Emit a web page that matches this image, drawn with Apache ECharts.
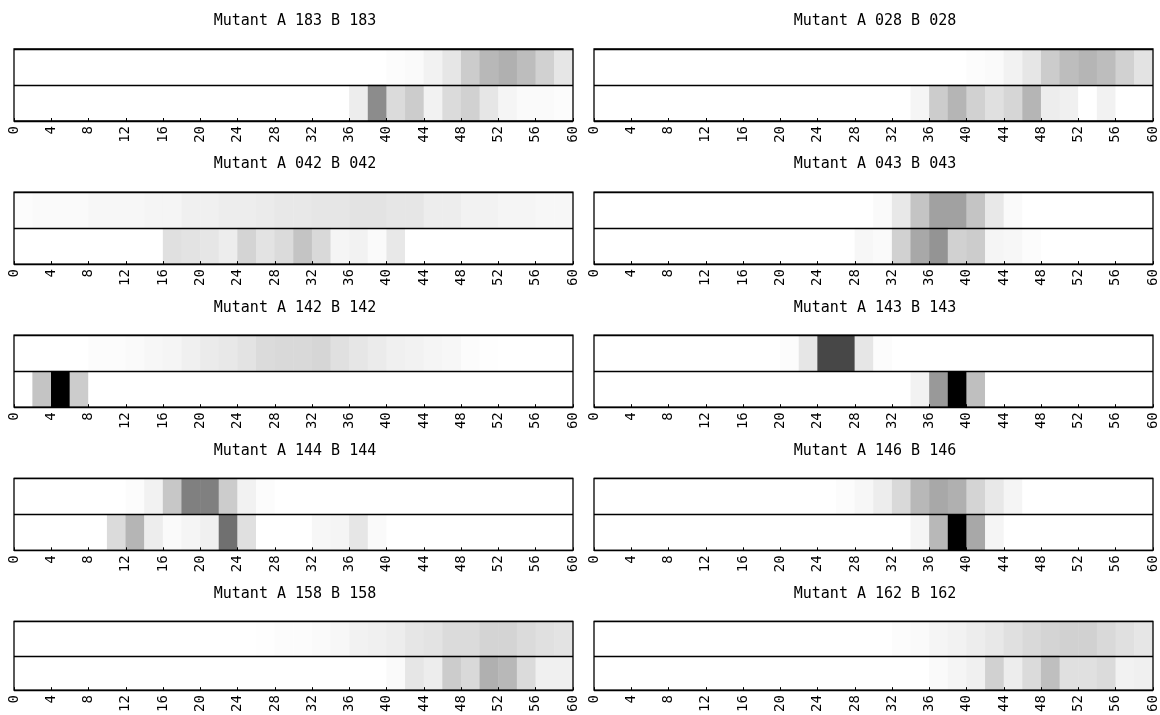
<!DOCTYPE html>
<html>
<head>
<meta charset="utf-8">
<script src="https://cdn.jsdelivr.net/npm/echarts@6/dist/echarts.min.js"></script>
<style>
html,body{margin:0;padding:0;background:#fff;}
#chart{width:1160px;height:715px;}
</style>
</head>
<body>
<div id="chart"></div>
<script>
// bin starts (each bin is 2 wide, 0..60)
const binStarts = [0,2,4,6,8,10,12,14,16,18,20,22,24,26,28,30,32,34,36,38,40,42,44,46,48,50,52,54,56,58];
const rowNames = ['B','A'];
const panelTitles = ['Mutant A 183 B 183','Mutant A 028 B 028','Mutant A 042 B 042','Mutant A 043 B 043',
  'Mutant A 142 B 142','Mutant A 143 B 143','Mutant A 144 B 144','Mutant A 146 B 146',
  'Mutant A 158 B 158','Mutant A 162 B 162'];

// darkness per bin (0 = white, 100 = black)
const a183 = [0,0,0,0,0,0,0,0,0,0, 0,0,0,0,0,0,0,0,0,0, 1,2,5,10,20,28,31,26,18,10];
const b183 = [0,0,0,0,0,0,0,0,0,0, 0,0,0,0,0,0,0,0,7,45, 14,20,5,14,18,10,4,2,2,1];
const a028 = [0,0,0,0,0,0,0,0,0,0, 0,0,0,0,0,0,0,0,0,0, 1,2,5,10,20,26,29,26,18,11];
const b028 = [0,0,0,0,0,0,0,0,0,0, 0,0,0,0,0,0,0,4,20,29, 18,12,16,29,7,6,0,5,0,0];
const a042 = [1,2,2,2,3,3,3,4,4,6, 6,7,7,8,9,9,10,10,11,11, 10,10,7,7,5,5,4,4,3,3];
const b042 = [0,0,0,0,0,0,0,0,12,11, 10,7,17,11,14,23,15,4,5,2, 9,0,0,0,0,0,0,0,0,0];
const a043 = [0,0,0,0,0,0,0,0,0,0, 0,0,0,0,0,2,9,23,37,37, 23,9,2,0,0,0,0,0,0,0];
const b043 = [0,0,0,0,0,0,0,0,0,0, 0,0,0,0,3,2,18,34,42,18, 20,4,3,1,0,0,0,0,0,0];
const a142 = [0,0,0,0,1,1,2,3,4,6, 8,9,11,14,15,15,16,12,10,8, 6,5,4,3,1,0.5,0,0,0,0];
const b142 = [0,23,100,20,0,0,0,0,0,0, 0,0,0,0,0,0,0,0,0,0, 0,0,0,0,0,0,0,0,0,0];
const a143 = [0,0,0,0,0,0,0,0,0,0, 1,10,72,72,10,1,0,0,0,0, 0,0,0,0,0,0,0,0,0,0];
const b143 = [0,0,0,0,0,0,0,0,0,0, 0,0,0,0,0,0,0,5,40,100, 25,0,0,0,0,0,0,0,0,0];
const a144 = [0,0,0,0,0,0,1,5,22,50, 50,20,5,1,0,0,0,0,0,0, 0,0,0,0,0,0,0,0,0,0];
const b144 = [0,0,0,0,0,14,29,7,2,4, 6,56,12,0,0,0,3,4,10,2, 0,0,0,0,0,0,0,0,0,0];
const a146 = [0,0,0,0,0,0,0,0,0,0, 0,0,0,1,3,7,15,28,34,31, 17,9,4,0,0,0,0,0,0,0];
const b146 = [0,0,0,0,0,0,0,0,0,0, 0,0,0,0,0,0,0,4,28,100, 34,4,0,0,0,0,0,0,0,0];
const a158 = [0,0,0,0,0,0,0,0,0,0, 0,0,0,0.5,1,1,2,3,5,6, 7,10,11,14,14,17,17,14,12,11];
const b158 = [0,0,0,0,0,0,0,0,0,0, 0,0,0,0,0,0,0,0,0,0, 2,10,7,20,15,31,28,14,6,6];
const a162 = [0,0,0,0,0,0,0,0,0,0, 0,0,0,0,0,0,1,2,4,5, 7,9,12,15,17,18,18,15,12,10];
const b162 = [0,0,0,0,0,0,0,0,0,0, 0,0,0,0,0,0,0,0,2,4, 6,18,7,14,25,12,12,14,5,6];

const panelA = [a183,a028,a042,a043,a142,a143,a144,a146,a158,a162];
const panelB = [b183,b028,b042,b043,b142,b143,b144,b146,b158,b162];

const FONT = 'DejaVu Sans Mono';
const grids = [], xAxes = [], yAxes = [], series = [], titles = [];
panelTitles.forEach((t, k) => {
  const row = Math.floor(k / 2), col = k % 2;
  const left = col === 0 ? 14 : 594;
  const width = 559;
  const top = 49 + row * 143.1;
  grids.push({left: left, top: top, width: width, height: 72, show: true,
    borderColor: '#000', borderWidth: 1.3, backgroundColor: 'transparent', z: 10});
  titles.push({text: t, left: left + width / 2 - 3.5, top: top - 40, textAlign: 'center',
    textStyle: {fontFamily: FONT, fontSize: 15, fontWeight: 'normal', color: '#000'}});
  xAxes.push({gridIndex: k, type: 'category', data: binStarts, show: false});
  xAxes.push({gridIndex: k, type: 'value', min: 0, max: 60, interval: 4, position: 'bottom',
    axisLine: {show: false},
    axisTick: {show: true, inside: true, length: 3, lineStyle: {color: '#000', width: 1}},
    axisLabel: {rotate: 90, fontFamily: FONT, fontSize: 14, color: '#000', margin: 5},
    splitLine: {show: false}, z: 10});
  yAxes.push({gridIndex: k, type: 'category', data: rowNames,
    axisLabel: {show: false}, axisTick: {show: false}, axisLine: {show: false},
    splitLine: {show: true, lineStyle: {color: '#000', width: 1.3}}, z: 10});
  const data = [];
  for (let i = 0; i < binStarts.length; i++) {
    data.push([i, 1, panelA[k][i]]);
    data.push([i, 0, panelB[k][i]]);
  }
  series.push({type: 'heatmap', xAxisIndex: 2 * k, yAxisIndex: k, data: data,
    itemStyle: {borderWidth: 0}, emphasis: {disabled: true}, silent: true, progressive: 0, z: 1});
});

const chart = echarts.init(document.getElementById('chart'), null, {renderer: 'canvas'});
chart.setOption({
  animation: false,
  backgroundColor: '#fff',
  title: titles,
  grid: grids,
  xAxis: xAxes,
  yAxis: yAxes,
  visualMap: {show: false, type: 'continuous', min: 0, max: 100, dimension: 2,
    inRange: {color: ['#ffffff', '#000000']}},
  series: series
});
</script>
</body>
</html>
